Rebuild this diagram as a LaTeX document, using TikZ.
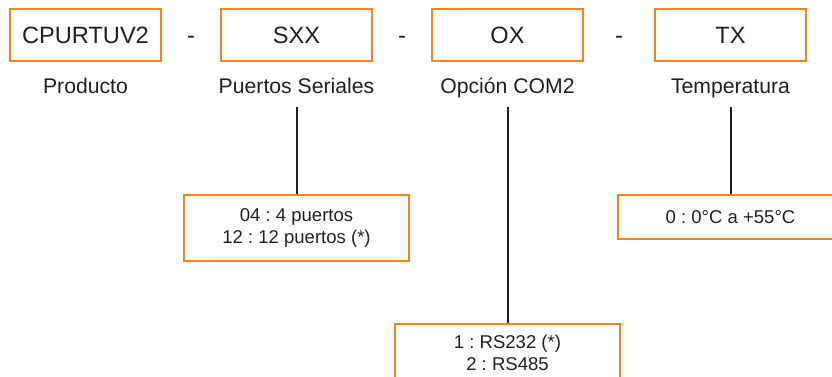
\documentclass[tikz,border=0pt]{standalone}
\usepackage{fontspec}
\setmainfont{Liberation Sans}
\frenchspacing
\definecolor{boxorange}{RGB}{245,130,32}
\definecolor{inkgray}{RGB}{35,31,32}

\begin{document}
\begin{tikzpicture}[x=0.75pt,y=-0.75pt,
		codebox/.style={rectangle,draw=boxorange,line width=1.5pt,minimum width=113.5pt,minimum height=39pt,inner sep=0pt,text=inkgray,font=\fontsize{17.7}{20}\selectfont},
		caption/.style={text=inkgray,inner sep=0pt,font=\fontsize{15.9}{18}\selectfont},
		sep/.style={text=inkgray,inner sep=0pt,font=\fontsize{17.7}{20}\selectfont},
		optbox/.style={rectangle,draw=boxorange,line width=1.5pt,minimum width=169pt,inner sep=0pt,align=center,text=inkgray,font=\fontsize{13.9}{16.5}\selectfont},
		stem/.style={draw=inkgray,line width=1.5pt}
		]
	\useasboundingbox (0,0) rectangle (832,376);

	% code fields
	\node[codebox](B1) at (85.5,35){CPURTUV2};
	\node[codebox, right of = B1, node distance = 158.25pt](B2){SXX};
	\node[codebox, right of = B2, node distance = 158.25pt](B3){OX};
	\node[codebox, right of = B3, node distance = 167.25pt](B4){TX};

	\node[sep, right of = B1, node distance = 79.1pt, anchor = base, yshift = -6.4pt](D1){-};
	\node[sep, right of = B2, node distance = 79.1pt, anchor = base, yshift = -6.4pt](D2){-};
	\node[sep, right of = B3, node distance = 83.6pt, anchor = base, yshift = -6.4pt](D3){-};

	% captions
	\node[caption, below of = B1, node distance = 43.5pt, anchor = base](L1){Producto};
	\node[caption, below of = B2, node distance = 43.5pt, anchor = base](L2){Puertos Seriales};
	\node[caption, below of = B3, node distance = 43.5pt, anchor = base](L3){Opción COM2};
	\node[caption, below of = B4, node distance = 43.5pt, anchor = base](L4){Temperatura};

	% options
	\node[optbox, minimum height = 49.5pt, below of = B2, node distance = 144.75pt](O1){04 : 4 puertos\\12 : 12 puertos (*)};
	\node[optbox, minimum height = 43.5pt, below of = B3, node distance = 238.5pt](O2){1 : RS232 (*)\\2 : RS485};
	\node[optbox, minimum height = 33pt, below of = B4, node distance = 136.5pt](O3){0 : 0°C a +55°C};

	\coordinate (T1) at ([yshift=-10.5pt]L2.base);
	\coordinate (T2) at ([yshift=-10.5pt]L3.base);
	\coordinate (T3) at ([yshift=-10.5pt]L4.base);
	\draw[stem] (T1) -- (O1);
	\draw[stem] (T2) -- (O2);
	\draw[stem] (T3) -- (O3);
\end{tikzpicture}
\end{document}
